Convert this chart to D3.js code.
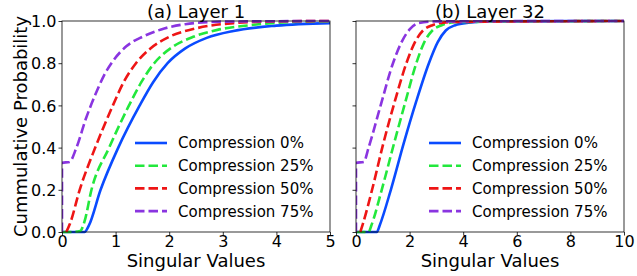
<!DOCTYPE html>
<html>
  <head>
    <meta charset="utf-8">
    <title>Cumulative singular values</title>
    <style>
    body{margin: 0; background: #fff}
    text{font-family: "DejaVu Sans", sans-serif; fill: #000}
    </style>
  </head>
  <body>
    <script src="https://cdn.jsdelivr.net/npm/d3@7"></script>
    <script type="text/javascript">
      // data: [singular value, cumulative probability]
      var seriesNames = ['Compression 0%', 'Compression 25%', 'Compression 50%', 'Compression 75%']
      var seriesColors = ['#0a4bff', '#22e83c', '#ee1515', '#8a35e0']
      var seriesDash = [null, '9.5,4', '9.5,4', '9.5,4']

      var titles = ['(a) Layer 1', '(b) Layer 32']
      var xMax = [5, 10]
      var xTicks = [[0, 1, 2, 3, 4, 5], [0, 2, 4, 6, 8, 10]]
      var yTicks = [0, 0.2, 0.4, 0.6, 0.8, 1.0]

      var layer1 = [
        [[0, 0], [0.42, 0], [0.5, 0.03], [0.72, 0.2], [1.05, 0.4], [1.45, 0.6], [1.7, 0.71], [1.97, 0.8], [2.3, 0.87], [2.7, 0.92], [3.2, 0.953], [4.0, 0.978], [5.0, 0.99]],
        [[0, 0], [0.17, 0], [0.34, 0.005], [0.42, 0.05], [0.55, 0.2], [0.88, 0.4], [1.25, 0.6], [1.48, 0.71], [1.72, 0.8], [2.05, 0.875], [2.45, 0.925], [2.9, 0.958], [3.5, 0.98], [4.3, 0.995], [5.0, 0.998]],
        [[0.08, 0], [0.15, 0.04], [0.33, 0.2], [0.62, 0.4], [0.95, 0.6], [1.15, 0.71], [1.38, 0.8], [1.65, 0.87], [2.0, 0.925], [2.5, 0.965], [3.2, 0.99], [4.0, 0.998], [5.0, 1.0]],
        [[0, 0], [0, 0.328], [0.14, 0.332], [0.27, 0.4], [0.45, 0.54], [0.62, 0.65], [0.78, 0.74], [0.95, 0.81], [1.2, 0.88], [1.5, 0.925], [1.85, 0.96], [2.3, 0.985], [3.0, 0.997], [5.0, 1.0]]
      ]
      var layer32 = [
        [[0, 0], [0.78, 0], [0.88, 0.03], [1.3, 0.2], [1.78, 0.42], [2.25, 0.62], [2.72, 0.8], [3.05, 0.9], [3.35, 0.955], [3.7, 0.98], [4.2, 0.992], [5.0, 0.998], [10, 1.0]],
        [[0, 0], [0.47, 0], [0.57, 0.03], [0.96, 0.2], [1.42, 0.42], [1.85, 0.62], [2.25, 0.8], [2.55, 0.9], [2.85, 0.955], [3.2, 0.98], [3.8, 0.995], [10, 1.0]],
        [[0.16, 0], [0.26, 0.04], [0.6, 0.2], [1.02, 0.42], [1.45, 0.62], [1.88, 0.8], [2.2, 0.9], [2.5, 0.955], [2.85, 0.98], [3.5, 0.995], [10, 1.0]],
        [[0, 0], [0, 0.328], [0.29, 0.332], [0.47, 0.4], [0.92, 0.6], [1.38, 0.8], [1.7, 0.9], [2.0, 0.96], [2.35, 0.99], [3.0, 0.998], [10, 1.0]]
      ]
      var panels = [layer1, layer32]

      var W = 637, H = 276
      var plotTop = 21, plotBottom = 232
      var lefts = [62, 356], pw = 268

      var svg = d3.select('body').append('svg')
        .attr('width', W)
        .attr('height', H)

      var y = d3.scaleLinear().domain([0, 1]).range([plotBottom, plotTop])

      panels.forEach(function(data, p){
        var x = d3.scaleLinear().domain([0, xMax[p]]).range([lefts[p], lefts[p] + pw])

        var g = svg.append('g')

        var clipId = 'clip' + p
        g.append('clipPath').attr('id', clipId)
          .append('rect')
          .attr('x', lefts[p]).attr('y', plotTop - 2)
          .attr('width', pw).attr('height', plotBottom - plotTop + 4)

        var line = d3.line()
          .x(function(d){ return x(d[0]) })
          .y(function(d){ return y(d[1]) })
          .curve(d3.curveMonotoneX)

        // curves
        g.append('g').attr('clip-path', 'url(#' + clipId + ')')
          .selectAll('path')
          .data(data)
          .enter()
            .append('path')
            .attr('d', line)
            .attr('fill', 'none')
            .attr('stroke', function(d, i){ return seriesColors[i] })
            .attr('stroke-width', 2.6)
            .attr('stroke-dasharray', function(d, i){ return seriesDash[i] })

        // axes
        var xAxis = d3.axisBottom(x).tickValues(xTicks[p]).tickSize(3.5).tickPadding(0.5)
          .tickFormat(d3.format('d'))
        var gx = g.append('g').attr('transform', 'translate(0,' + plotBottom + ')').call(xAxis)
        gx.select('.domain').remove()
        gx.selectAll('text').style('font-size', '16px').attr('fill', '#000')

        var yAxis = d3.axisLeft(y).tickValues(yTicks).tickSize(3.5).tickPadding(2)
          .tickFormat(p === 0 ? d3.format('.1f') : function(){ return '' })
        var gy = g.append('g').attr('transform', 'translate(' + lefts[p] + ',0)').call(yAxis)
        gy.select('.domain').remove()
        gy.selectAll('text').style('font-size', '16px').attr('dy', '0.36em').attr('fill', '#000')

        g.selectAll('.tick line').attr('stroke', '#000').attr('stroke-width', 0.8)

        g.append('rect')
          .attr('x', lefts[p]).attr('y', plotTop)
          .attr('width', pw).attr('height', plotBottom - plotTop)
          .attr('fill', 'none')
          .attr('stroke', '#000')
          .attr('stroke-width', 0.8)

        // title + x label
        g.append('text')
          .attr('x', lefts[p] + pw / 2).attr('y', 18)
          .attr('text-anchor', 'middle')
          .style('font-size', '18px')
          .text(titles[p])

        g.append('text')
          .attr('x', lefts[p] + pw / 2).attr('y', 267)
          .attr('text-anchor', 'middle')
          .style('font-size', '18px')
          .text('Singular Values')

        // legend
        var lg = g.append('g').attr('transform', 'translate(' + (lefts[p] + 73) + ',143)')
        var item = lg.selectAll('g')
          .data(seriesNames)
          .enter()
            .append('g')
            .attr('transform', function(d, i){ return 'translate(0,' + (i * 22.7) + ')' })
        item.append('line')
          .attr('x1', 0).attr('x2', 32)
          .attr('stroke', function(d, i){ return seriesColors[i] })
          .attr('stroke-width', 2.6)
          .attr('stroke-dasharray', function(d, i){ return seriesDash[i] })
        item.append('text')
          .attr('x', 43).attr('dy', '0.36em')
          .style('font-size', '15px')
          .text(function(d){ return d })
      })

      svg.append('text')
        .attr('transform', 'translate(27,' + ((plotTop + plotBottom) / 2) + ') rotate(-90)')
        .attr('text-anchor', 'middle')
        .style('font-size', '18px')
        .text('Cummulative Probability')
    </script>
  </body>
</html>
